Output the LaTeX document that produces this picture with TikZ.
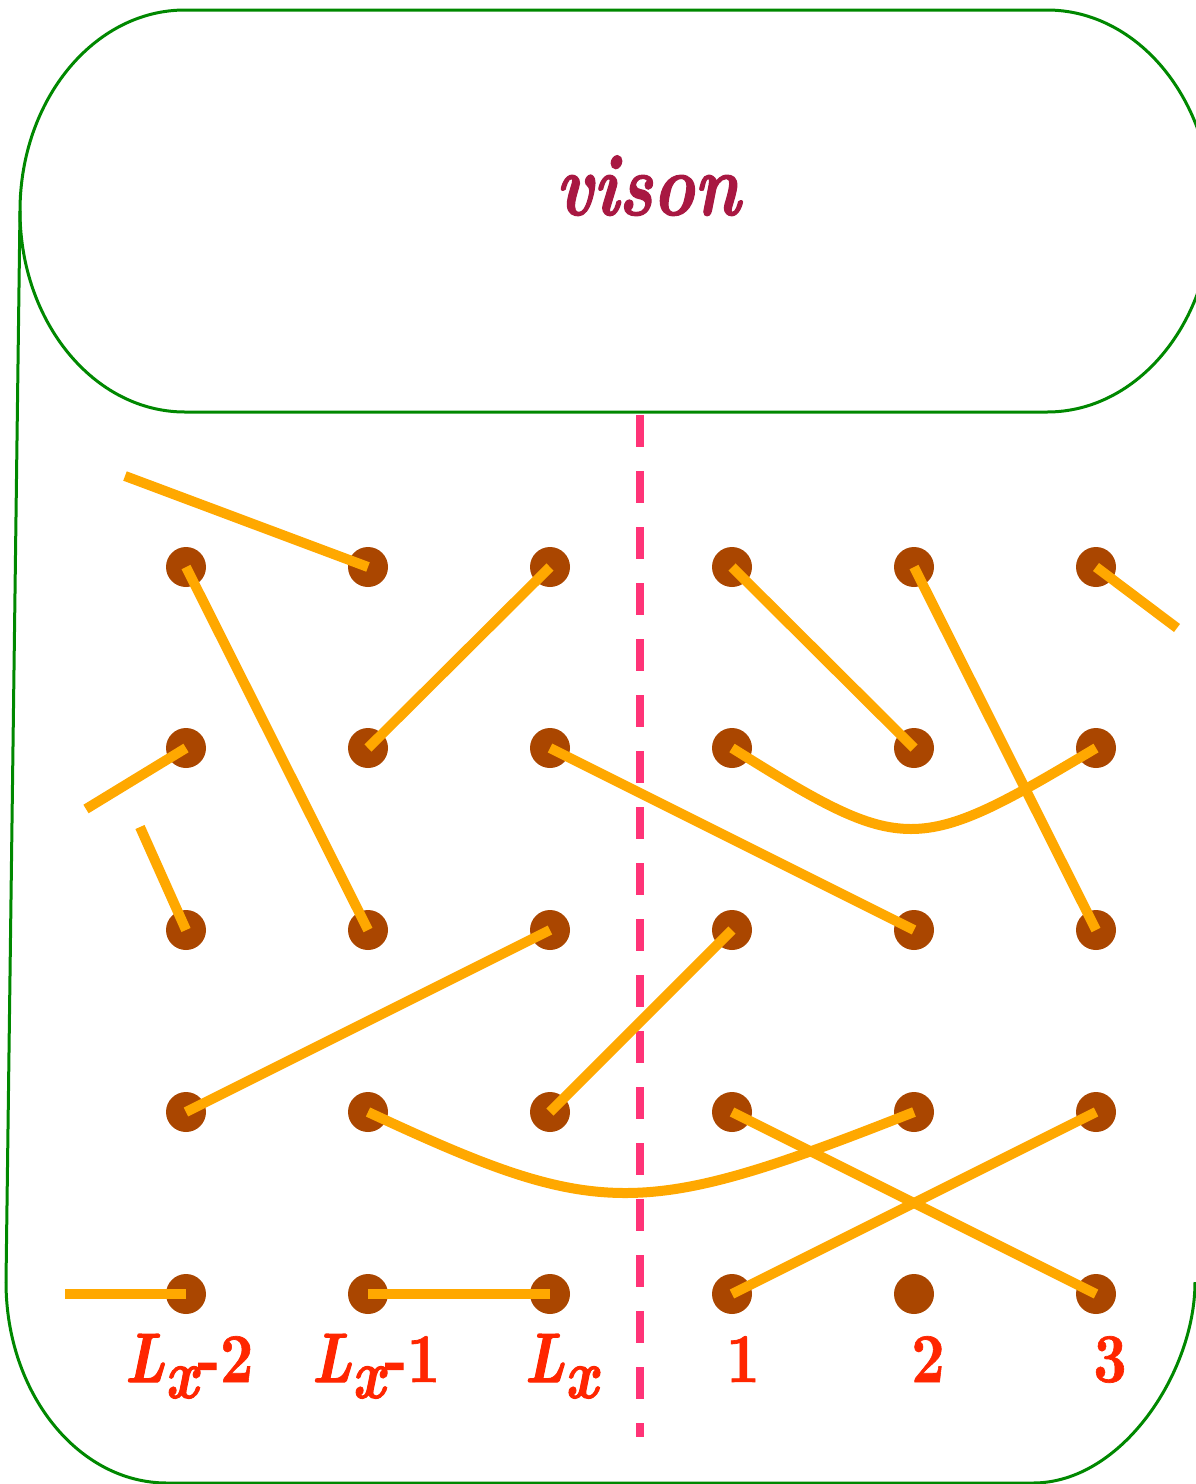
\documentclass[tikz,border=0pt]{standalone}
\usepackage{fontspec}
\setmainfont{lmroman10-regular}[Extension=.otf,BoldFont=lmroman10-bold,ItalicFont=lmroman10-italic,BoldItalicFont=lmroman10-bolditalic,BoldItalicFeatures={FakeBold=1.6},BoldFeatures={FakeBold=1}]
\definecolor{frame}{RGB}{0,136,0}
\definecolor{dotc}{RGB}{170,70,0}
\definecolor{bond}{RGB}{255,168,0}
\definecolor{cutc}{RGB}{255,51,119}
\definecolor{labc}{RGB}{255,38,0}
\definecolor{visc}{RGB}{168,24,66}
\newcommand{\narrowlab}[1]{\scalebox{0.83}[1]{#1}}
\begin{document}
\begin{tikzpicture}[x=1pt,y=-1pt,
  site/.style={circle,fill=dotc,draw=none,minimum size=40pt,inner sep=0pt},
  bondline/.style={draw=bond,line width=10pt},
  frameline/.style={draw=frame,line width=3pt},
  cutline/.style={draw=cutc,line width=8pt,dash pattern=on 32pt off 24pt},
  lab/.style={text=labc,inner sep=0pt,anchor=base,font=\fontsize{70}{70}\selectfont\bfseries}]
\useasboundingbox (0,0) rectangle (1195,1484);
% frame
\draw[frameline] (185,10) -- (1047,10)
  .. controls (1138,10) and (1212,100) .. (1212,211)
  .. controls (1212,322) and (1138,412) .. (1047,412) -- (185,412)
  .. controls (94,412) and (20,322) .. (20,211)
  .. controls (20,100) and (94,10) .. (185,10) -- cycle;
\draw[frameline] (20,211) -- (6,1282)
  .. controls (6,1393) and (78,1483) .. (167,1483) -- (1033,1483)
  .. controls (1122,1483) and (1195,1372) .. (1195,1282);
% vison
\node[text=visc,inner sep=0pt,anchor=base,font=\fontsize{88}{88}\selectfont\bfseries\itshape] (vison) at (648,215) {\scalebox{0.8}[1]{vison}};
% cut
\coordinate (cuttop) at (640,415);
\coordinate (cutbot) at (640,1437);
\draw[cutline] (cuttop) -- (cutbot);
% sites
\foreach \c/\x in {1/186,2/368,3/550,4/732,5/914,6/1096}{
  \foreach \r/\y in {1/567,2/748,3/930,4/1112,5/1294}{
    \node[site] (d\c\r) at (\x,\y) {};
  }
}
% free ends
\coordinate (e1) at (125,476);
\coordinate (e2) at (1177,628);
\coordinate (e3) at (86,809);
\coordinate (e4) at (140,827);
\coordinate (e5) at (65,1294);
% bonds
\draw[bondline] (e1) -- (d21.center);
\draw[bondline] (d11.center) -- (d23.center);
\draw[bondline] (d31.center) -- (d22.center);
\draw[bondline] (d41.center) -- (d52.center);
\draw[bondline] (d51.center) -- (d63.center);
\draw[bondline] (d61.center) -- (e2);
\draw[bondline] (d12.center) -- (e3);
\draw[bondline] (e4) -- (d13.center);
\draw[bondline] (d32.center) -- (d53.center);
\draw[bondline] (d42.center) .. controls (905,856) and (915,856) .. (d62.center);
\draw[bondline] (d33.center) -- (d14.center);
\draw[bondline] (d43.center) -- (d34.center);
\draw[bondline] (d24.center) .. controls (600,1220) and (640,1220) .. (d54.center);
\draw[bondline] (d44.center) -- (d65.center);
\draw[bondline] (d64.center) -- (d45.center);
\draw[bondline] (e5) -- (d15.center);
\draw[bondline] (d25.center) -- (d35.center);
% labels
\node[lab] (l1) at (189,1382) {\narrowlab{\itshape L\raisebox{-16pt}{x}\upshape-2}};
\node[lab] (l2) at (376,1382) {\narrowlab{\itshape L\raisebox{-16pt}{x}\upshape-1}};
\node[lab] (l3) at (561,1382) {\narrowlab{\itshape L\raisebox{-16pt}{x}}};
\node[lab] (l4) at (743,1382) {\narrowlab{1}};
\node[lab] (l5) at (928,1382) {\narrowlab{2}};
\node[lab] (l6) at (1110,1382) {\narrowlab{3}};
\end{tikzpicture}
\end{document}
